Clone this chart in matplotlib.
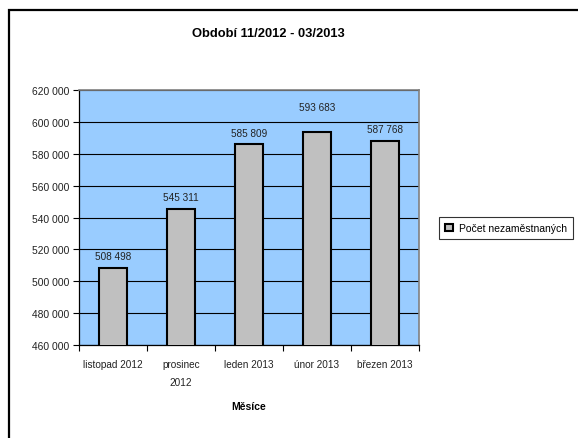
import matplotlib
matplotlib.use("Agg")
import matplotlib.pyplot as plt
from matplotlib.patches import Rectangle
from matplotlib.ticker import FuncFormatter, MultipleLocator
import numpy as np

plt.rcParams['font.family'] = ['Liberation Sans', 'DejaVu Sans']

categories = ["listopad 2012", "prosinec\n2012", "leden 2013", "únor 2013", "březen 2013"]
values = [508498, 545311, 585809, 593683, 587768]
series_name = "Počet nezaměstnaných"
title = "Období 11/2012 - 03/2013"
xlabel = "Měsíce"

# extra lift of individual data labels (points), as placed in the reference
label_lift = [0, 0, 0, 9, 0]

W, H = 578, 439
fig = plt.figure(figsize=(W / 100, H / 100), dpi=100)

# outer frame (only left and top visible in reference)
fig.patches.append(Rectangle((8.5 / W, -0.1), 1.2, 1 - 10.5 / H + 0.1,
                             transform=fig.transFigure, fill=False,
                             edgecolor='black', linewidth=1.6))

l, r, t, b = 79, 419, 91, 346
ax = fig.add_axes([l / W, 1 - b / H, (r - l) / W, (b - t) / H])
ax.set_facecolor('#99ccff')

x = np.arange(len(categories))
ax.bar(x, values, width=0.41, color='#c0c0c0', edgecolor='black', linewidth=1.5, zorder=3)
for xi, v, lift in zip(x, values, label_lift):
    ax.annotate(f"{v:,}".replace(",", " "), (xi, v), xytext=(0, 5 + lift),
                textcoords='offset points', ha='center', va='bottom',
                fontsize=7.2, color='#222222', zorder=4)

ax.set_xlim(-0.5, len(categories) - 0.5)
ax.set_ylim(460000, 620000)
ax.yaxis.set_major_locator(MultipleLocator(20000))
ax.yaxis.set_major_formatter(FuncFormatter(lambda v, p: f"{int(v):,}".replace(",", " ")))
ax.set_xticks(x)
ax.set_xticklabels(categories, fontsize=7.2, linespacing=2.0, color='#222222')
ax.set_xticks(np.arange(-0.5, len(categories)), minor=True)
ax.tick_params(axis='x', which='major', length=0, pad=10)
ax.tick_params(axis='x', which='minor', length=4, width=0.8, direction='out')
ax.tick_params(axis='y', labelsize=7.4, length=4, width=0.8, direction='out', pad=3, labelcolor='#222222')

ax.grid(axis='y', color='black', linewidth=0.8, zorder=1)
for s in ['top', 'right']:
    ax.spines[s].set_color('#808080')
    ax.spines[s].set_linewidth(1.2)
for s in ['left', 'bottom']:
    ax.spines[s].set_color('black')
    ax.spines[s].set_linewidth(0.9)
ax.set_axisbelow(True)

fig.text(268 / W, 1 - 34 / H, title, ha='center', va='center', fontsize=9.3, fontweight='bold')
fig.text(249 / W, 1 - 407 / H, xlabel, ha='center', va='center', fontsize=7.5, fontweight='bold')

handle = Rectangle((0, 0), 1, 1, facecolor='#c0c0c0', edgecolor='black', linewidth=1.5)
leg = fig.legend([handle], [series_name], loc='center left',
                 bbox_to_anchor=(439 / W, 1 - 229 / H), fontsize=7.5, frameon=True,
                 fancybox=False, edgecolor='black', handlelength=0.7, handleheight=0.7,
                 handletextpad=0.6, borderpad=0.6, borderaxespad=0)
leg.get_frame().set_linewidth(0.8)

fig.savefig("out.png", dpi=100)
